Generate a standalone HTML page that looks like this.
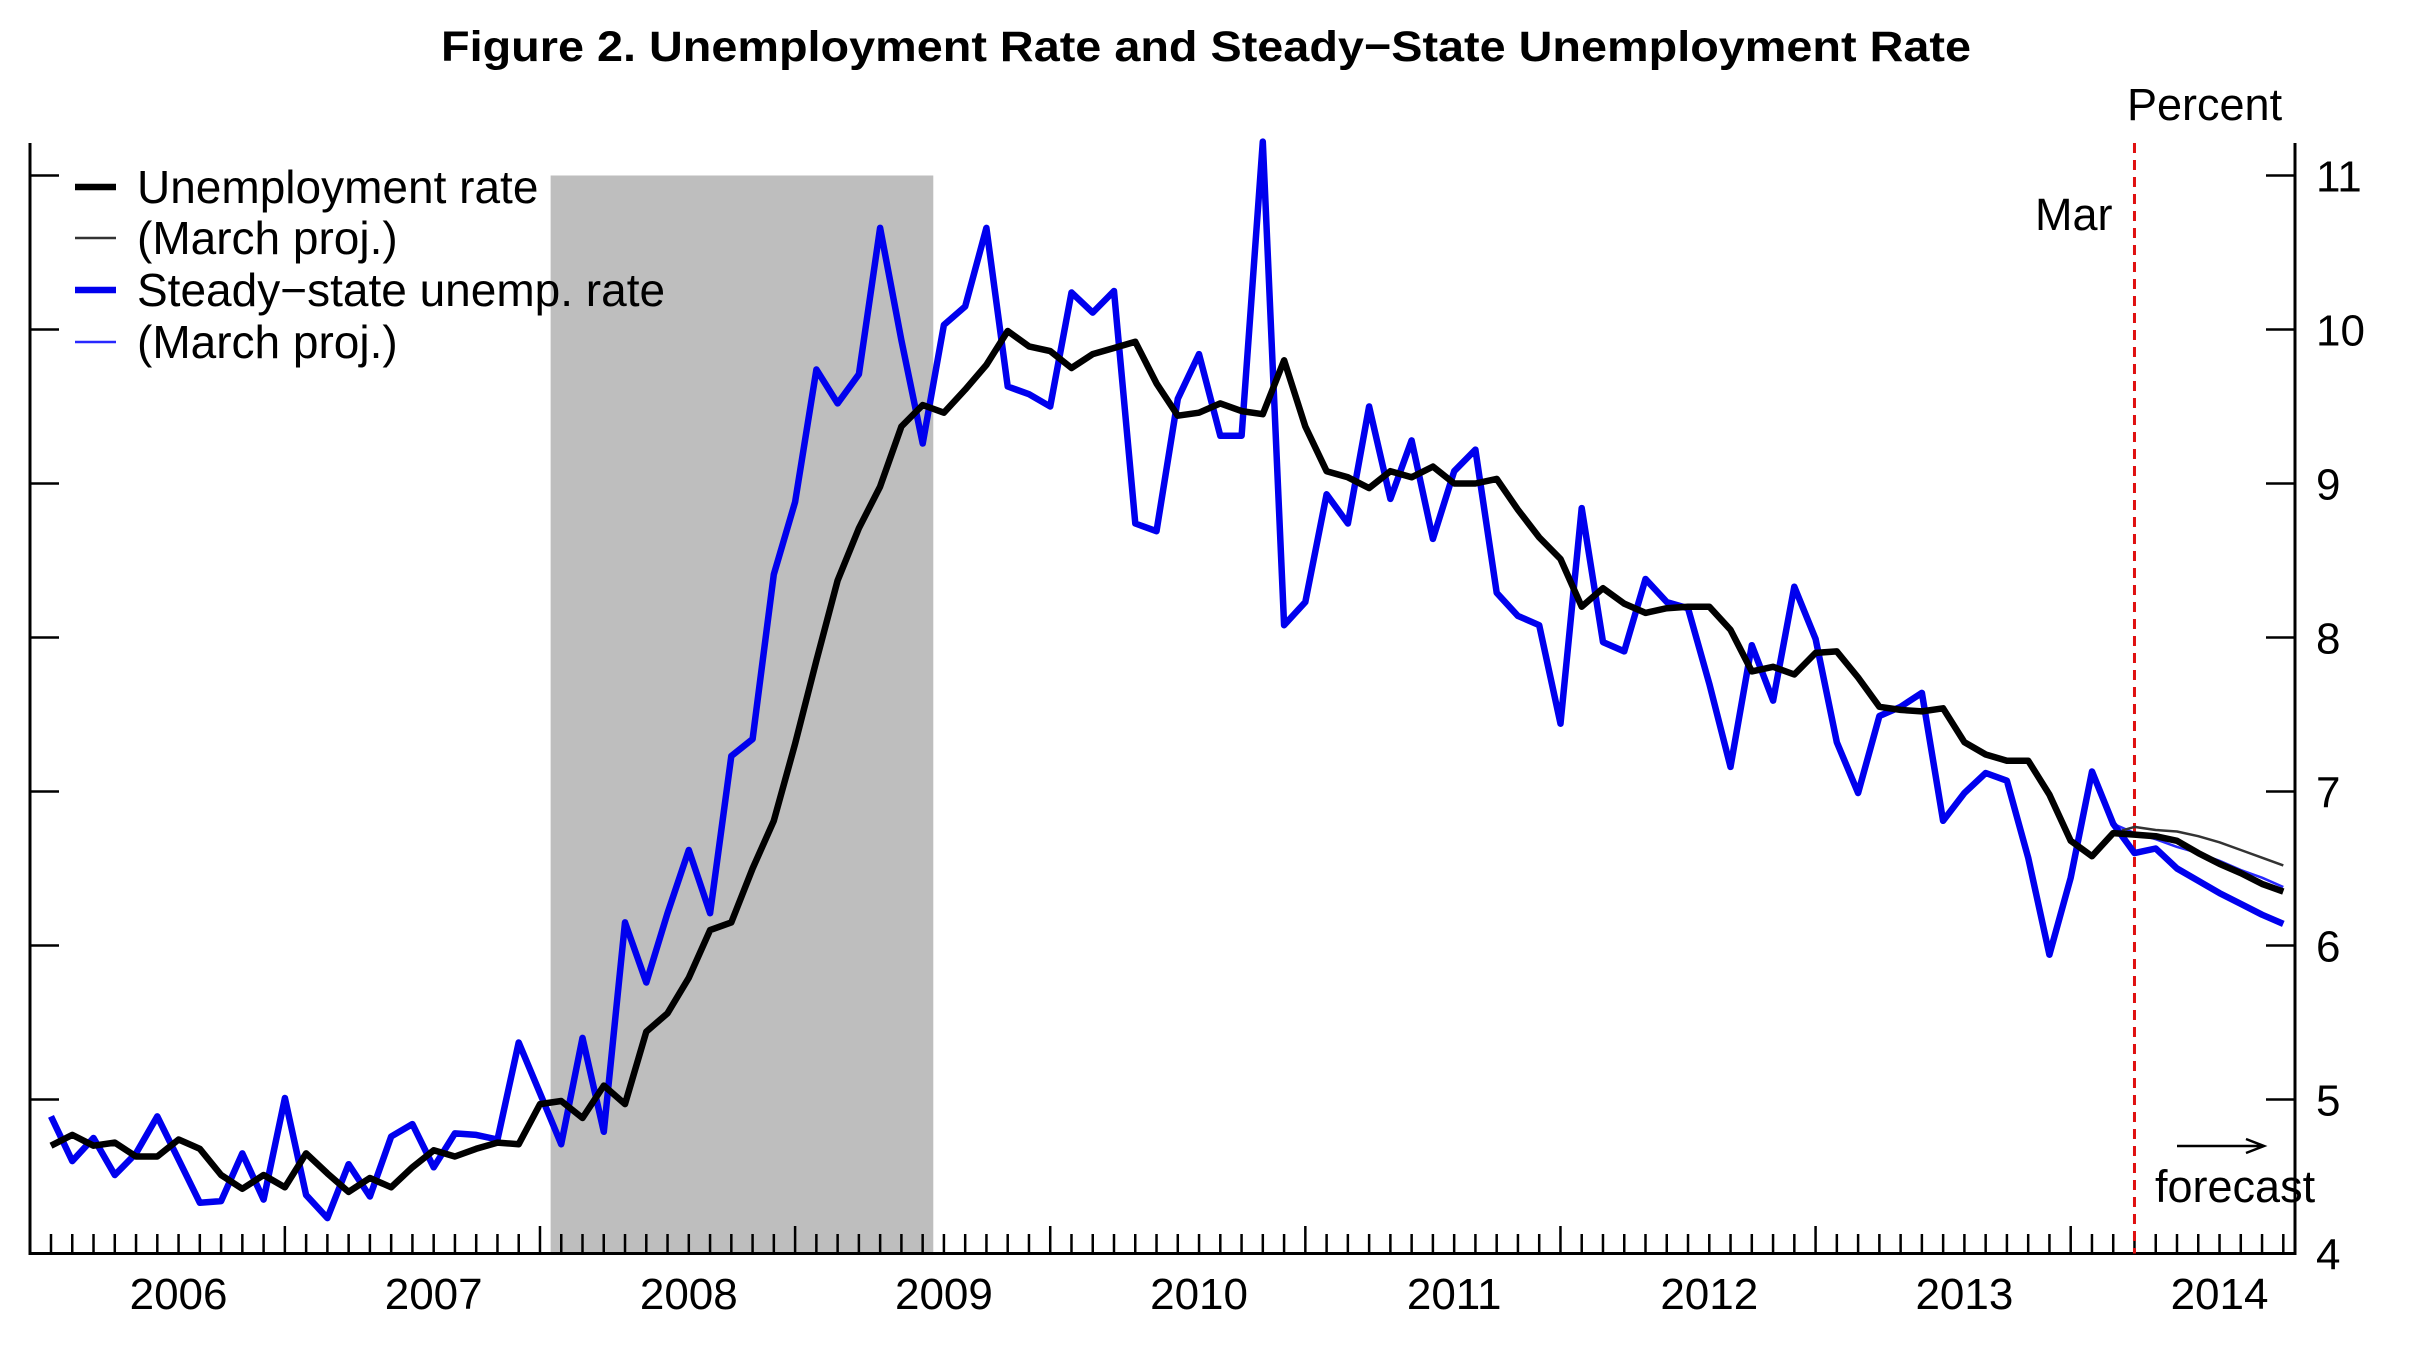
<!DOCTYPE html>
<html><head><meta charset="utf-8"><style>
html,body{margin:0;padding:0;background:#fff;}
svg{display:block;font-family:"Liberation Sans",Arial,sans-serif;}
</style></head><body>
<svg id="chart" width="2417" height="1350" viewBox="0 0 2417 1350">
<text x="441" y="61" font-size="43" font-weight="bold" textLength="1530" lengthAdjust="spacingAndGlyphs">Figure 2. Unemployment Rate and Steady−State Unemployment Rate</text>
<g id="plot"></g>
</svg>
<script>
const months = 106; // Jan 2006 .. Oct 2014
const yearLabels = ["2006","2007","2008","2009","2010","2011","2012","2013","2014"];
const yTicks = [4,5,6,7,8,9,10,11];
const unemp = [4.70,4.77,4.70,4.72,4.63,4.63,4.74,4.68,4.51,4.42,4.51,4.43,4.65,4.52,4.40,4.49,4.43,4.56,4.67,4.63,4.68,4.72,4.71,4.97,4.99,4.88,5.09,4.97,5.44,5.56,5.79,6.10,6.15,6.50,6.81,7.31,7.85,8.37,8.71,8.98,9.37,9.51,9.46,9.61,9.77,9.99,9.89,9.86,9.75,9.84,9.88,9.92,9.65,9.44,9.46,9.52,9.47,9.45,9.80,9.37,9.08,9.04,8.97,9.08,9.04,9.11,9.00,9.00,9.03,8.83,8.65,8.51,8.20,8.32,8.22,8.16,8.19,8.20,8.20,8.05,7.78,7.81,7.76,7.90,7.91,7.74,7.55,7.53,7.52,7.54,7.32,7.24,7.20,7.20,6.98,6.68,6.58,6.73,6.72,6.71,6.68,6.60,6.53,6.47,6.40,6.35];
const steady = [4.89,4.60,4.75,4.51,4.65,4.89,4.61,4.33,4.34,4.65,4.35,5.01,4.38,4.23,4.58,4.37,4.76,4.84,4.56,4.78,4.77,4.74,5.37,5.04,4.71,5.40,4.79,6.15,5.76,6.21,6.62,6.21,7.23,7.34,8.41,8.88,9.74,9.52,9.71,10.66,9.93,9.26,10.03,10.15,10.66,9.63,9.58,9.50,10.24,10.11,10.25,8.74,8.69,9.55,9.84,9.31,9.31,11.22,8.08,8.23,8.93,8.74,9.50,8.90,9.28,8.64,9.08,9.22,8.29,8.14,8.08,7.44,8.84,7.97,7.91,8.38,8.23,8.19,7.70,7.16,7.95,7.59,8.33,7.99,7.32,6.99,7.49,7.55,7.64,6.81,6.99,7.12,7.07,6.57,5.94,6.44,7.13,6.79,6.60,6.63,6.50,6.42,6.34,6.27,6.20,6.14];
const projStart = 97;
const unempProj = [6.73,6.77,6.75,6.74,6.71,6.67,6.62,6.57,6.52];
const steadyProj = [6.79,6.73,6.69,6.64,6.60,6.55,6.49,6.44,6.38];
const recession = [23.5,41.5];
const marIndex = 98;

const NS="http://www.w3.org/2000/svg";
const g=document.getElementById('plot');
const X0=51, DX=21.26, AXL=30, AXR=2295, YB=1253.5;
const xs=i=>X0+DX*i;
const ys=v=>YB-(v-4)*154;
function mk(tag,attrs,parent){const e=document.createElementNS(NS,tag);for(const k in attrs)e.setAttribute(k,attrs[k]);(parent||g).appendChild(e);return e;}

const sh=mk('rect',{x:xs(recession[0]),y:ys(11),width:xs(recession[1])-xs(recession[0]),height:YB-ys(11),fill:'#bebebe'});



const ax=mk('path',{d:`M${AXL},143 V${YB} H${AXR} V143`,fill:'none',stroke:'#000','stroke-width':3});


yTicks.forEach(v=>{
  const y=ys(v);
  const t1=mk('line',{x1:AXL,x2:AXL+29,y1:y,y2:y,stroke:'#000','stroke-width':2.5});
  
  
  const t2=mk('line',{x1:AXR-29,x2:AXR,y1:y,y2:y,stroke:'#000','stroke-width':2.5});
  
  
  const tx=mk('text',{x:2316,y:y+16,'font-size':44});
  tx.textContent=v;
  
  
});
for(let i=0;i<months;i++){
  const major=(i%12===11);
  const t=mk('line',{x1:xs(i),x2:xs(i),y1:major?1226:1234,y2:YB,stroke:'#000','stroke-width':2.5});
  
  
}
yearLabels.forEach((lab,k)=>{
  const t=mk('text',{x:xs(6+12*k),y:1309,'font-size':44,'text-anchor':'middle'});
  t.textContent=lab;
  
  
});

const ml=mk('line',{x1:xs(marIndex),x2:xs(marIndex),y1:143,y2:YB,stroke:'#e01010','stroke-width':3,'stroke-dasharray':'10,7'});



function line(arr,start,color,w,name){
  const d=arr.map((v,i)=>(i?'L':'M')+xs(start+i).toFixed(1)+','+ys(v).toFixed(1)).join(' ');
  const p=mk('path',{d,fill:'none',stroke:color,'stroke-width':w,'stroke-linejoin':'round'});
  
  
}
line(steadyProj,projStart,'#2828ff',2.5,'steady-state-march-proj-line');
line(unempProj,projStart,'#333',2.5,'unemployment-march-proj-line');
line(steady,0,'#0000ee',6.5,'steady-state-rate-line');
line(unemp,0,'#000',6.5,'unemployment-rate-line');

const leg=[['Unemployment rate','#000',6.5],['(March proj.)','#333',2.5],['Steady−state unemp. rate','#0000ee',6.5],['(March proj.)','#2828ff',2.5]];
const ly=[187,238,290,342];
leg.forEach((l,k)=>{
  const s=mk('line',{x1:75,x2:116,y1:ly[k],y2:ly[k],stroke:l[1],'stroke-width':l[2]});
  
  
  const t=mk('text',{x:137,y:ly[k]+16,'font-size':46});
  t.textContent=l[0];
  
  
});

const pc=mk('text',{x:2127,y:120,'font-size':45});
pc.textContent='Percent';


const mt=mk('text',{x:2035,y:230,'font-size':45});
mt.textContent='Mar';


const fc=mk('text',{x:2155,y:1202,'font-size':45});
fc.textContent='forecast';


const ar=mk('path',{d:'M2177,1146 H2262 M2246,1139 L2264,1146 L2246,1153',fill:'none',stroke:'#000','stroke-width':2.5});


</script>
</body></html>
